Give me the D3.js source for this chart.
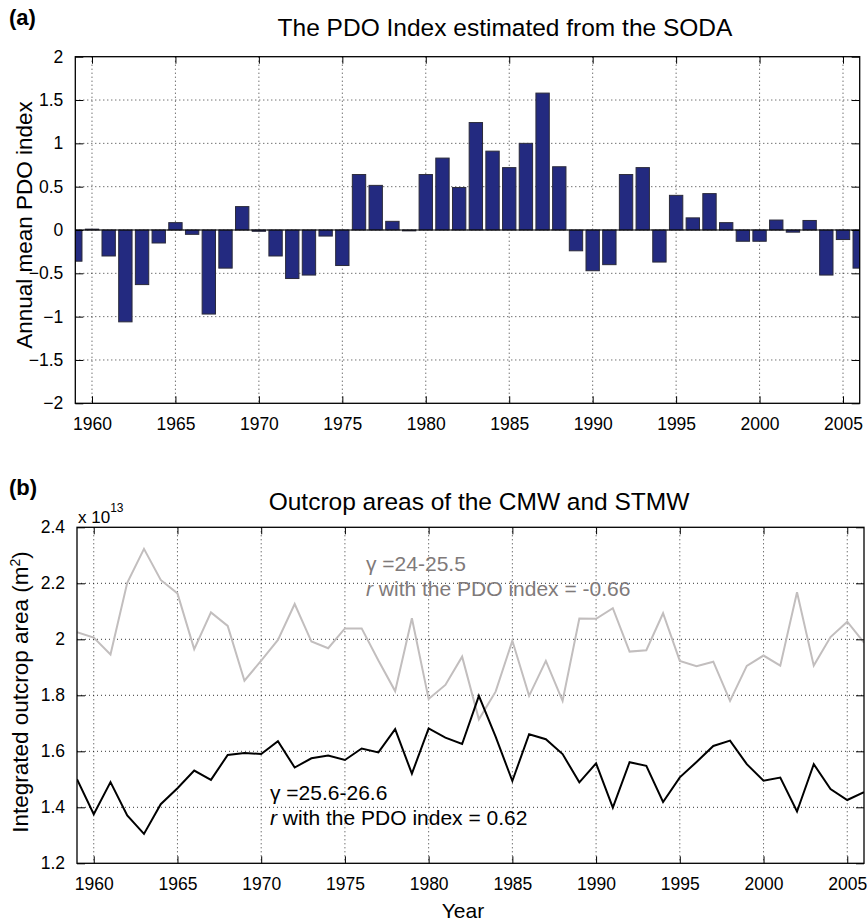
<!DOCTYPE html>
<html>
<head>
<meta charset="utf-8">
<script src="https://cdn.jsdelivr.net/npm/d3@7"></script>
<style>
  html, body { margin: 0; padding: 0; background: #ffffff; }
  svg { display: block; font-family: "Liberation Sans", Arial, Helvetica, sans-serif; }
</style>
</head>
<body>
<svg id="fig" width="867" height="921"></svg>
<script>
// Years covered by both panels
const years = d3.range(1959, 2007);

// Annual mean PDO index (SODA)
const pdoIndex = [
  -0.36, 0.01, -0.30, -1.06, -0.63, -0.15, 0.085, -0.05, -0.97, -0.44,
  0.27, -0.015, -0.30, -0.56, -0.52, -0.07, -0.41, 0.64, 0.515, 0.10,
  -0.01, 0.64, 0.83, 0.49, 1.24, 0.91, 0.72, 1.00, 1.58, 0.73,
  -0.24, -0.47, -0.40, 0.64, 0.72, -0.37, 0.40, 0.14, 0.42, 0.085,
  -0.13, -0.13, 0.115, -0.025, 0.11, -0.52, -0.11, -0.44
];

// Integrated outcrop area, units of 1e13 m^2
const outcropLight = [ // gamma = 24-25.5
  2.025, 2.006, 1.946, 2.202, 2.323, 2.212, 2.164, 1.965, 2.096, 2.048,
  1.852, 1.924, 1.998, 2.126, 1.992, 1.968, 2.039, 2.039, 1.924, 1.815,
  2.075, 1.787, 1.837, 1.938, 1.714, 1.813, 1.995, 1.798, 1.923, 1.780,
  2.074, 2.073, 2.111, 1.956, 1.961, 2.093, 1.923, 1.904, 1.920, 1.780,
  1.905, 1.942, 1.906, 2.168, 1.906, 2.008, 2.063, 1.988
];
const outcropDark = [ // gamma = 25.6-26.6
  1.500, 1.375, 1.490, 1.371, 1.305, 1.411, 1.468, 1.531, 1.498, 1.587,
  1.594, 1.590, 1.636, 1.542, 1.575, 1.585, 1.569, 1.610, 1.596, 1.679,
  1.520, 1.682, 1.649, 1.626, 1.798, 1.652, 1.494, 1.661, 1.643, 1.590,
  1.489, 1.557, 1.399, 1.561, 1.548, 1.419, 1.507, 1.562, 1.619, 1.638,
  1.554, 1.495, 1.506, 1.385, 1.554, 1.465, 1.426, 1.454
];

// Tick values
const xTicks = [1960, 1965, 1970, 1975, 1980, 1985, 1990, 1995, 2000, 2005];
const yTicksA = [-2, -1.5, -1, -0.5, 0, 0.5, 1, 1.5, 2];
const yTicksB = [1.2, 1.4, 1.6, 1.8, 2.0, 2.2, 2.4];

const svg = d3.select("#fig");
const fmtA = v => v === 0 ? "0" : d3.format("")(v).replace("-", "\u2212");
const fmtB = v => (Math.round(v * 10) / 10 === Math.round(v) ? String(Math.round(v)) : String(v));

function panel(opts) {
  const { left, right, top, bottom, yDomain, yTicks, yFmt, id } = opts;
  const x = d3.scaleLinear().domain([1959, 2006]).range([left, right]);
  const y = d3.scaleLinear().domain(yDomain).range([bottom, top]);
  const g = svg.append("g");

  g.append("rect").attr("x", left).attr("y", top)
    .attr("width", right - left).attr("height", bottom - top).attr("fill", "#ffffff");

  g.append("clipPath").attr("id", id).append("rect")
    .attr("x", left).attr("y", top).attr("width", right - left).attr("height", bottom - top);

  // dotted grid
  const grid = g.append("g").attr("stroke", "#000").attr("stroke-width", 0.8)
    .attr("stroke-dasharray", "1,3");
  grid.selectAll("line.v").data(xTicks).join("line")
    .attr("x1", d => x(d)).attr("x2", d => x(d)).attr("y1", top).attr("y2", bottom);
  grid.selectAll("line.h").data(yTicks.slice(1, -1)).join("line")
    .attr("y1", d => y(d)).attr("y2", d => y(d)).attr("x1", left).attr("x2", right);

  const marks = g.append("g").attr("clip-path", `url(#${id})`);

  // axes with inward ticks, mirrored on all sides
  const bottomAxis = d3.axisBottom(x).tickValues(xTicks).tickSize(-7).tickPadding(14).tickFormat(d3.format("d"));
  const topAxis = d3.axisTop(x).tickValues(xTicks).tickSize(-7).tickFormat("");
  const leftAxis = d3.axisLeft(y).tickValues(yTicks).tickSize(-8).tickPadding(12).tickFormat(yFmt);
  const rightAxis = d3.axisRight(y).tickValues(yTicks).tickSize(-8).tickFormat("");

  const axes = g.append("g");
  axes.append("g").attr("transform", `translate(0,${bottom})`).call(bottomAxis);
  axes.append("g").attr("transform", `translate(0,${top})`).call(topAxis);
  axes.append("g").attr("transform", `translate(${left},0)`).call(leftAxis);
  axes.append("g").attr("transform", `translate(${right},0)`).call(rightAxis);
  axes.selectAll(".domain").remove();
  axes.selectAll(".tick line").attr("stroke", "#000").attr("stroke-width", 1);
  axes.selectAll(".tick text").attr("fill", "#000").attr("font-size", 17.5)
    .attr("font-family", "Liberation Sans, Arial, sans-serif");

  g.append("rect").attr("x", left).attr("y", top)
    .attr("width", right - left).attr("height", bottom - top)
    .attr("fill", "none").attr("stroke", "#000").attr("stroke-width", 1.3);

  return { x, y, g, marks };
}

// ---------- (a) PDO index bars ----------
const A = panel({ left: 75.3, right: 859.7, top: 56.7, bottom: 403.3,
  yDomain: [-2, 2], yTicks: yTicksA, yFmt: fmtA, id: "clipA" });

const barW = 0.8;
A.marks.selectAll("rect.bar").data(years).join("rect")
  .attr("class", "bar")
  .attr("x", (d) => A.x(d - barW / 2))
  .attr("width", A.x(1959 + barW) - A.x(1959))
  .attr("y", (d, i) => A.y(Math.max(0, pdoIndex[i])))
  .attr("height", (d, i) => Math.abs(A.y(pdoIndex[i]) - A.y(0)))
  .attr("fill", "#232a80").attr("stroke", "#2b2b3a").attr("stroke-width", 1);

A.g.append("line").attr("x1", 75.3).attr("x2", 859.7)
  .attr("y1", A.y(0)).attr("y2", A.y(0)).attr("stroke", "#000").attr("stroke-width", 1.2);

svg.append("text").attr("x", 505).attr("y", 36).attr("text-anchor", "middle")
  .attr("font-size", 24.5).text("The PDO Index estimated from the SODA");
svg.append("text").attr("x", 9).attr("y", 25).attr("font-size", 22).attr("font-weight", "bold")
  .text("(a)");
svg.append("text").attr("transform", "translate(32,225) rotate(-90)").attr("text-anchor", "middle")
  .attr("font-size", 22.5).text("Annual mean PDO index");

// ---------- (b) outcrop area lines ----------
const B = panel({ left: 77, right: 864, top: 527.3, bottom: 863.3,
  yDomain: [1.2, 2.4], yTicks: yTicksB, yFmt: fmtB, id: "clipB" });

const line = d3.line().x((d, i) => B.x(years[i])).y(d => B.y(d));
B.marks.append("path").datum(outcropLight).attr("d", line)
  .attr("fill", "none").attr("stroke", "#c2bebe").attr("stroke-width", 2).attr("stroke-linejoin", "miter");
B.marks.append("path").datum(outcropDark).attr("d", line)
  .attr("fill", "none").attr("stroke", "#000").attr("stroke-width", 2).attr("stroke-linejoin", "miter");

svg.append("text").attr("x", 479).attr("y", 510).attr("text-anchor", "middle")
  .attr("font-size", 24.5).text("Outcrop areas of the CMW and STMW");
svg.append("text").attr("x", 9).attr("y", 495).attr("font-size", 22).attr("font-weight", "bold")
  .text("(b)");

const expo = svg.append("text").attr("x", 78).attr("y", 523).attr("font-size", 17);
expo.append("tspan").text("x 10");
expo.append("tspan").attr("dy", -11).attr("font-size", 12).text("13");

const yl = svg.append("text").attr("transform", "translate(28,692) rotate(-90)")
  .attr("text-anchor", "middle").attr("font-size", 22.5);
yl.append("tspan").text("Integrated outcrop area (m");
yl.append("tspan").attr("dy", -8).attr("font-size", 14).text("2");
yl.append("tspan").attr("dy", 8).text(")");

svg.append("text").attr("x", 463).attr("y", 918).attr("text-anchor", "middle")
  .attr("font-size", 21).text("Year");

// annotations
function note(xp, yp, color, gammaText, rText) {
  const t1 = svg.append("text").attr("x", xp).attr("y", yp).attr("font-size", 21).attr("fill", color);
  t1.text("\u03b3 =" + gammaText);
  const t2 = svg.append("text").attr("x", xp).attr("y", yp + 25).attr("font-size", 21).attr("fill", color);
  t2.append("tspan").attr("font-style", "italic").text("r");
  t2.append("tspan").text(" with the PDO index = " + rText);
}
note(366, 571, "#7f7a7a", "24-25.5", "-0.66");
note(270, 800, "#000", "25.6-26.6", "0.62");
</script>
</body>
</html>
